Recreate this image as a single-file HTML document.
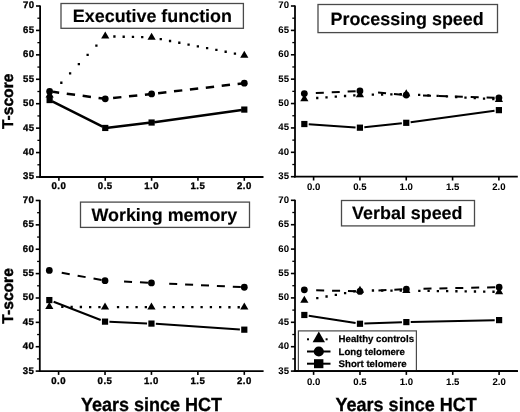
<!DOCTYPE html>
<html><head><meta charset="utf-8"><style>
html,body{margin:0;padding:0;background:#fff;width:520px;height:412px;overflow:hidden}
svg{display:block;will-change:transform}
text{font-family:"Liberation Sans",sans-serif;font-weight:bold;fill:#000;text-rendering:geometricPrecision}
.tk{font-size:9.6px;stroke:#000;stroke-width:0.35px;letter-spacing:0.5px}
.tkr{font-size:9.6px;stroke:#000;stroke-width:0.05px}
.tt{font-size:17.9px;stroke:#000;stroke-width:0.15px}
.at{font-size:18px;stroke:#000;stroke-width:0.3px}
.yt{font-size:15.6px;stroke:#000;stroke-width:0.45px}
.lg{font-size:9.65px;stroke:#000;stroke-width:0.25px}
</style></head><body>
<svg width="520" height="412" viewBox="0 0 520 412">
<rect width="520" height="412" fill="#fff"/>
<rect x="61.0" y="3.5" width="182.40" height="24.80" fill="#fff" stroke="#4a4a4a" stroke-width="1.3"/>
<text x="152.4" y="21.8" text-anchor="middle" class="tt">Executive function</text>
<line x1="40.1" y1="5.4" x2="40.1" y2="177.9" stroke="#000" stroke-width="1.8"/>
<line x1="39.2" y1="177.0" x2="263.5" y2="177.0" stroke="#000" stroke-width="1.8"/>
<line x1="36.0" y1="177.00" x2="40.1" y2="177.00" stroke="#000" stroke-width="1.6"/>
<text transform="translate(34.60,179.40) scale(1.0,1)" text-anchor="end" class="tk">35</text>
<line x1="36.0" y1="152.57" x2="40.1" y2="152.57" stroke="#000" stroke-width="1.6"/>
<text transform="translate(34.60,154.97) scale(1.0,1)" text-anchor="end" class="tk">40</text>
<line x1="36.0" y1="128.14" x2="40.1" y2="128.14" stroke="#000" stroke-width="1.6"/>
<text transform="translate(34.60,130.54) scale(1.0,1)" text-anchor="end" class="tk">45</text>
<line x1="36.0" y1="103.71" x2="40.1" y2="103.71" stroke="#000" stroke-width="1.6"/>
<text transform="translate(34.60,106.11) scale(1.0,1)" text-anchor="end" class="tk">50</text>
<line x1="36.0" y1="79.29" x2="40.1" y2="79.29" stroke="#000" stroke-width="1.6"/>
<text transform="translate(34.60,81.69) scale(1.0,1)" text-anchor="end" class="tk">55</text>
<line x1="36.0" y1="54.86" x2="40.1" y2="54.86" stroke="#000" stroke-width="1.6"/>
<text transform="translate(34.60,57.26) scale(1.0,1)" text-anchor="end" class="tk">60</text>
<line x1="36.0" y1="30.43" x2="40.1" y2="30.43" stroke="#000" stroke-width="1.6"/>
<text transform="translate(34.60,32.83) scale(1.0,1)" text-anchor="end" class="tk">65</text>
<line x1="36.0" y1="6.00" x2="40.1" y2="6.00" stroke="#000" stroke-width="1.6"/>
<text transform="translate(34.60,8.40) scale(1.0,1)" text-anchor="end" class="tk">70</text>
<line x1="37.4" y1="164.79" x2="40.1" y2="164.79" stroke="#000" stroke-width="1.3"/>
<line x1="37.4" y1="140.36" x2="40.1" y2="140.36" stroke="#000" stroke-width="1.3"/>
<line x1="37.4" y1="115.93" x2="40.1" y2="115.93" stroke="#000" stroke-width="1.3"/>
<line x1="37.4" y1="91.50" x2="40.1" y2="91.50" stroke="#000" stroke-width="1.3"/>
<line x1="37.4" y1="67.07" x2="40.1" y2="67.07" stroke="#000" stroke-width="1.3"/>
<line x1="37.4" y1="42.64" x2="40.1" y2="42.64" stroke="#000" stroke-width="1.3"/>
<line x1="37.4" y1="18.21" x2="40.1" y2="18.21" stroke="#000" stroke-width="1.3"/>
<line x1="58.90" y1="177.0" x2="58.90" y2="180.8" stroke="#000" stroke-width="1.6"/>
<text transform="translate(58.90,189.40) scale(1.0,1)" text-anchor="middle" class="tk">0.0</text>
<line x1="105.25" y1="177.0" x2="105.25" y2="180.8" stroke="#000" stroke-width="1.6"/>
<text transform="translate(105.25,189.40) scale(1.0,1)" text-anchor="middle" class="tk">0.5</text>
<line x1="151.60" y1="177.0" x2="151.60" y2="180.8" stroke="#000" stroke-width="1.6"/>
<text transform="translate(151.60,189.40) scale(1.0,1)" text-anchor="middle" class="tk">1.0</text>
<line x1="197.95" y1="177.0" x2="197.95" y2="180.8" stroke="#000" stroke-width="1.6"/>
<text transform="translate(197.95,189.40) scale(1.0,1)" text-anchor="middle" class="tk">1.5</text>
<line x1="244.30" y1="177.0" x2="244.30" y2="180.8" stroke="#000" stroke-width="1.6"/>
<text transform="translate(244.30,189.40) scale(1.0,1)" text-anchor="middle" class="tk">2.0</text>
<path d="M95.24,44.51h2.3v2.3h-2.3zM86.48,53.78h2.3v2.3h-2.3zM77.71,63.05h2.3v2.3h-2.3zM68.95,72.32h2.3v2.3h-2.3zM60.18,81.59h2.3v2.3h-2.3zM141.08,36.04h2.3v2.3h-2.3zM131.81,35.81h2.3v2.3h-2.3zM122.54,35.59h2.3v2.3h-2.3zM113.27,35.36h2.3v2.3h-2.3zM233.78,52.38h2.3v2.3h-2.3zM224.51,50.59h2.3v2.3h-2.3zM215.24,48.80h2.3v2.3h-2.3zM205.97,47.00h2.3v2.3h-2.3zM196.70,45.21h2.3v2.3h-2.3zM187.43,43.42h2.3v2.3h-2.3zM178.16,41.62h2.3v2.3h-2.3zM168.89,39.83h2.3v2.3h-2.3zM159.62,38.04h2.3v2.3h-2.3z" fill="#000"/>
<path d="M98.55,97.93L105.25,98.83M82.65,95.81L90.95,96.92M66.75,93.69L75.05,94.80M53.03,91.86L59.15,92.67M144.90,94.65L151.60,93.94M129.00,96.33L137.30,95.45M113.10,98.00L121.40,97.13M237.60,83.97L244.30,83.19M221.70,85.81L230.00,84.85M205.80,87.66L214.10,86.70M189.90,89.50L198.20,88.54M174.00,91.35L182.30,90.38M158.10,93.19L166.40,92.23" fill="none" stroke="#000" stroke-width="2.5"/>
<path d="M52.28,101.38L102.60,126.62M107.85,127.64L149.00,122.83M154.20,122.16L241.70,109.94" fill="none" stroke="#000" stroke-width="2.5"/>
<rect x="46.53" y="96.95" width="6.2" height="6.2" fill="#000"/>
<rect x="102.15" y="124.85" width="6.2" height="6.2" fill="#000"/>
<rect x="148.50" y="119.42" width="6.2" height="6.2" fill="#000"/>
<rect x="241.20" y="106.48" width="6.2" height="6.2" fill="#000"/>
<circle cx="49.63" cy="91.40" r="3.4" fill="#000"/>
<circle cx="105.25" cy="98.83" r="3.4" fill="#000"/>
<circle cx="151.60" cy="93.94" r="3.4" fill="#000"/>
<circle cx="244.30" cy="83.19" r="3.4" fill="#000"/>
<path d="M49.63,90.45L53.73,97.45L45.53,97.45Z" fill="#000"/>
<path d="M105.25,31.62L109.35,38.62L101.15,38.62Z" fill="#000"/>
<path d="M151.60,32.75L155.70,39.75L147.50,39.75Z" fill="#000"/>
<path d="M244.30,50.68L248.40,57.68L240.20,57.68Z" fill="#000"/>
<rect x="318.0" y="4.5" width="179.50" height="28.10" fill="#fff" stroke="#4a4a4a" stroke-width="1.3"/>
<text x="407.1" y="24.5" text-anchor="middle" class="tt">Processing speed</text>
<line x1="295.0" y1="5.4" x2="295.0" y2="177.6" stroke="#000" stroke-width="1.8"/>
<line x1="294.1" y1="176.7" x2="517.8" y2="176.7" stroke="#000" stroke-width="1.8"/>
<line x1="290.9" y1="176.70" x2="295.0" y2="176.70" stroke="#000" stroke-width="1.6"/>
<text transform="translate(289.00,179.10) scale(1.0,1)" text-anchor="end" class="tkr">35</text>
<line x1="290.9" y1="152.31" x2="295.0" y2="152.31" stroke="#000" stroke-width="1.6"/>
<text transform="translate(289.00,154.71) scale(1.0,1)" text-anchor="end" class="tkr">40</text>
<line x1="290.9" y1="127.93" x2="295.0" y2="127.93" stroke="#000" stroke-width="1.6"/>
<text transform="translate(289.00,130.33) scale(1.0,1)" text-anchor="end" class="tkr">45</text>
<line x1="290.9" y1="103.54" x2="295.0" y2="103.54" stroke="#000" stroke-width="1.6"/>
<text transform="translate(289.00,105.94) scale(1.0,1)" text-anchor="end" class="tkr">50</text>
<line x1="290.9" y1="79.16" x2="295.0" y2="79.16" stroke="#000" stroke-width="1.6"/>
<text transform="translate(289.00,81.56) scale(1.0,1)" text-anchor="end" class="tkr">55</text>
<line x1="290.9" y1="54.77" x2="295.0" y2="54.77" stroke="#000" stroke-width="1.6"/>
<text transform="translate(289.00,57.17) scale(1.0,1)" text-anchor="end" class="tkr">60</text>
<line x1="290.9" y1="30.39" x2="295.0" y2="30.39" stroke="#000" stroke-width="1.6"/>
<text transform="translate(289.00,32.79) scale(1.0,1)" text-anchor="end" class="tkr">65</text>
<line x1="290.9" y1="6.00" x2="295.0" y2="6.00" stroke="#000" stroke-width="1.6"/>
<text transform="translate(289.00,8.40) scale(1.0,1)" text-anchor="end" class="tkr">70</text>
<line x1="292.3" y1="164.51" x2="295.0" y2="164.51" stroke="#000" stroke-width="1.3"/>
<line x1="292.3" y1="140.12" x2="295.0" y2="140.12" stroke="#000" stroke-width="1.3"/>
<line x1="292.3" y1="115.74" x2="295.0" y2="115.74" stroke="#000" stroke-width="1.3"/>
<line x1="292.3" y1="91.35" x2="295.0" y2="91.35" stroke="#000" stroke-width="1.3"/>
<line x1="292.3" y1="66.96" x2="295.0" y2="66.96" stroke="#000" stroke-width="1.3"/>
<line x1="292.3" y1="42.58" x2="295.0" y2="42.58" stroke="#000" stroke-width="1.3"/>
<line x1="292.3" y1="18.19" x2="295.0" y2="18.19" stroke="#000" stroke-width="1.3"/>
<line x1="313.60" y1="176.7" x2="313.60" y2="180.5" stroke="#000" stroke-width="1.6"/>
<text transform="translate(313.60,189.50) scale(1.0,1)" text-anchor="middle" class="tkr">0.0</text>
<line x1="359.93" y1="176.7" x2="359.93" y2="180.5" stroke="#000" stroke-width="1.6"/>
<text transform="translate(359.93,189.50) scale(1.0,1)" text-anchor="middle" class="tkr">0.5</text>
<line x1="406.25" y1="176.7" x2="406.25" y2="180.5" stroke="#000" stroke-width="1.6"/>
<text transform="translate(406.25,189.50) scale(1.0,1)" text-anchor="middle" class="tkr">1.0</text>
<line x1="452.58" y1="176.7" x2="452.58" y2="180.5" stroke="#000" stroke-width="1.6"/>
<text transform="translate(452.58,189.50) scale(1.0,1)" text-anchor="middle" class="tkr">1.5</text>
<line x1="498.90" y1="176.7" x2="498.90" y2="180.5" stroke="#000" stroke-width="1.6"/>
<text transform="translate(498.90,189.50) scale(1.0,1)" text-anchor="middle" class="tkr">2.0</text>
<path d="M353.18,94.21h2.3v2.3h-2.3zM343.91,94.87h2.3v2.3h-2.3zM334.64,95.52h2.3v2.3h-2.3zM325.37,96.18h2.3v2.3h-2.3zM316.10,96.84h2.3v2.3h-2.3zM399.50,92.99h2.3v2.3h-2.3zM390.23,93.18h2.3v2.3h-2.3zM380.96,93.37h2.3v2.3h-2.3zM371.69,93.55h2.3v2.3h-2.3zM492.15,98.06h2.3v2.3h-2.3zM482.88,97.51h2.3v2.3h-2.3zM473.61,96.96h2.3v2.3h-2.3zM464.34,96.41h2.3v2.3h-2.3zM455.07,95.85h2.3v2.3h-2.3zM445.80,95.30h2.3v2.3h-2.3zM436.53,94.75h2.3v2.3h-2.3zM427.26,94.20h2.3v2.3h-2.3zM417.99,93.65h2.3v2.3h-2.3z" fill="#000"/>
<path d="M347.62,91.53L355.62,91.16M331.73,92.27L339.73,91.90M315.82,93.01L323.82,92.64M393.95,93.97L401.95,94.68M378.05,92.56L386.05,93.27M486.60,97.47L494.60,97.71M470.70,96.99L478.70,97.23M454.80,96.51L462.80,96.75M438.90,96.04L446.90,96.28M423.00,95.56L431.00,95.80" fill="none" stroke="#000" stroke-width="2.0"/>
<path d="M308.73,124.32L355.53,127.40M364.32,127.22L401.86,123.27M410.64,122.21L494.51,110.73" fill="none" stroke="#000" stroke-width="2.0"/>
<rect x="301.24" y="120.93" width="6.2" height="6.2" fill="#000"/>
<rect x="356.82" y="124.58" width="6.2" height="6.2" fill="#000"/>
<rect x="403.15" y="119.71" width="6.2" height="6.2" fill="#000"/>
<rect x="495.80" y="107.03" width="6.2" height="6.2" fill="#000"/>
<circle cx="304.34" cy="93.54" r="3.4" fill="#000"/>
<circle cx="359.93" cy="90.96" r="3.4" fill="#000"/>
<circle cx="406.25" cy="95.06" r="3.4" fill="#000"/>
<circle cx="498.90" cy="97.84" r="3.4" fill="#000"/>
<path d="M304.34,94.24L308.44,101.24L300.24,101.24Z" fill="#000"/>
<path d="M359.93,90.29L364.03,97.29L355.82,97.29Z" fill="#000"/>
<path d="M406.25,89.37L410.35,96.37L402.15,96.37Z" fill="#000"/>
<path d="M498.90,94.88L503.00,101.88L494.80,101.88Z" fill="#000"/>
<rect x="80.5" y="202.1" width="169.00" height="25.30" fill="#fff" stroke="#4a4a4a" stroke-width="1.3"/>
<text x="164.35" y="220.6" text-anchor="middle" class="tt">Working memory</text>
<line x1="39.8" y1="199.9" x2="39.8" y2="372.0" stroke="#000" stroke-width="1.8"/>
<line x1="38.9" y1="371.1" x2="263.6" y2="371.1" stroke="#000" stroke-width="1.8"/>
<line x1="35.699999999999996" y1="371.10" x2="39.8" y2="371.10" stroke="#000" stroke-width="1.6"/>
<text transform="translate(34.30,373.50) scale(1.0,1)" text-anchor="end" class="tk">35</text>
<line x1="35.699999999999996" y1="346.73" x2="39.8" y2="346.73" stroke="#000" stroke-width="1.6"/>
<text transform="translate(34.30,349.13) scale(1.0,1)" text-anchor="end" class="tk">40</text>
<line x1="35.699999999999996" y1="322.36" x2="39.8" y2="322.36" stroke="#000" stroke-width="1.6"/>
<text transform="translate(34.30,324.76) scale(1.0,1)" text-anchor="end" class="tk">45</text>
<line x1="35.699999999999996" y1="297.99" x2="39.8" y2="297.99" stroke="#000" stroke-width="1.6"/>
<text transform="translate(34.30,300.39) scale(1.0,1)" text-anchor="end" class="tk">50</text>
<line x1="35.699999999999996" y1="273.61" x2="39.8" y2="273.61" stroke="#000" stroke-width="1.6"/>
<text transform="translate(34.30,276.01) scale(1.0,1)" text-anchor="end" class="tk">55</text>
<line x1="35.699999999999996" y1="249.24" x2="39.8" y2="249.24" stroke="#000" stroke-width="1.6"/>
<text transform="translate(34.30,251.64) scale(1.0,1)" text-anchor="end" class="tk">60</text>
<line x1="35.699999999999996" y1="224.87" x2="39.8" y2="224.87" stroke="#000" stroke-width="1.6"/>
<text transform="translate(34.30,227.27) scale(1.0,1)" text-anchor="end" class="tk">65</text>
<line x1="35.699999999999996" y1="200.50" x2="39.8" y2="200.50" stroke="#000" stroke-width="1.6"/>
<text transform="translate(34.30,202.90) scale(1.0,1)" text-anchor="end" class="tk">70</text>
<line x1="37.099999999999994" y1="358.91" x2="39.8" y2="358.91" stroke="#000" stroke-width="1.3"/>
<line x1="37.099999999999994" y1="334.54" x2="39.8" y2="334.54" stroke="#000" stroke-width="1.3"/>
<line x1="37.099999999999994" y1="310.17" x2="39.8" y2="310.17" stroke="#000" stroke-width="1.3"/>
<line x1="37.099999999999994" y1="285.80" x2="39.8" y2="285.80" stroke="#000" stroke-width="1.3"/>
<line x1="37.099999999999994" y1="261.43" x2="39.8" y2="261.43" stroke="#000" stroke-width="1.3"/>
<line x1="37.099999999999994" y1="237.06" x2="39.8" y2="237.06" stroke="#000" stroke-width="1.3"/>
<line x1="37.099999999999994" y1="212.69" x2="39.8" y2="212.69" stroke="#000" stroke-width="1.3"/>
<line x1="58.60" y1="371.1" x2="58.60" y2="374.90000000000003" stroke="#000" stroke-width="1.6"/>
<text transform="translate(58.60,384.40) scale(1.0,1)" text-anchor="middle" class="tk">0.0</text>
<line x1="105.03" y1="371.1" x2="105.03" y2="374.90000000000003" stroke="#000" stroke-width="1.6"/>
<text transform="translate(105.03,384.40) scale(1.0,1)" text-anchor="middle" class="tk">0.5</text>
<line x1="151.45" y1="371.1" x2="151.45" y2="374.90000000000003" stroke="#000" stroke-width="1.6"/>
<text transform="translate(151.45,384.40) scale(1.0,1)" text-anchor="middle" class="tk">1.0</text>
<line x1="197.87" y1="371.1" x2="197.87" y2="374.90000000000003" stroke="#000" stroke-width="1.6"/>
<text transform="translate(197.87,384.40) scale(1.0,1)" text-anchor="middle" class="tk">1.5</text>
<line x1="244.30" y1="371.1" x2="244.30" y2="374.90000000000003" stroke="#000" stroke-width="1.6"/>
<text transform="translate(244.30,384.40) scale(1.0,1)" text-anchor="middle" class="tk">2.0</text>
<path d="M98.28,305.96h2.3v2.3h-2.3zM89.00,305.90h2.3v2.3h-2.3zM79.73,305.83h2.3v2.3h-2.3zM70.47,305.77h2.3v2.3h-2.3zM61.20,305.70h2.3v2.3h-2.3zM144.70,306.00h2.3v2.3h-2.3zM135.43,306.00h2.3v2.3h-2.3zM126.16,306.00h2.3v2.3h-2.3zM116.89,306.00h2.3v2.3h-2.3zM237.55,306.09h2.3v2.3h-2.3zM228.28,306.08h2.3v2.3h-2.3zM219.01,306.07h2.3v2.3h-2.3zM209.74,306.06h2.3v2.3h-2.3zM200.47,306.05h2.3v2.3h-2.3zM191.20,306.04h2.3v2.3h-2.3zM181.93,306.03h2.3v2.3h-2.3zM172.66,306.02h2.3v2.3h-2.3zM163.39,306.01h2.3v2.3h-2.3z" fill="#000"/>
<path d="M93.53,278.57L101.53,280.04M77.62,275.65L85.62,277.12M61.73,272.73L69.73,274.20M139.95,282.33L147.95,282.71M124.05,281.58L132.05,281.96M232.80,286.72L240.80,287.10M216.90,285.97L224.90,286.35M201.00,285.22L209.00,285.59M185.10,284.47L193.10,284.84M169.20,283.71L177.20,284.09" fill="none" stroke="#000" stroke-width="2.0"/>
<path d="M53.63,301.75L100.71,319.96M109.42,321.81L147.05,323.39M155.85,323.86L239.90,329.38" fill="none" stroke="#000" stroke-width="2.0"/>
<rect x="46.21" y="296.98" width="6.2" height="6.2" fill="#000"/>
<rect x="101.93" y="318.53" width="6.2" height="6.2" fill="#000"/>
<rect x="148.35" y="320.48" width="6.2" height="6.2" fill="#000"/>
<rect x="241.20" y="326.57" width="6.2" height="6.2" fill="#000"/>
<circle cx="49.31" cy="270.45" r="3.4" fill="#000"/>
<circle cx="105.03" cy="280.68" r="3.4" fill="#000"/>
<circle cx="151.45" cy="282.88" r="3.4" fill="#000"/>
<circle cx="244.30" cy="287.26" r="3.4" fill="#000"/>
<path d="M49.31,302.09L53.41,309.09L45.21,309.09Z" fill="#000"/>
<path d="M105.03,302.48L109.12,309.48L100.93,309.48Z" fill="#000"/>
<path d="M151.45,302.48L155.55,309.48L147.35,309.48Z" fill="#000"/>
<path d="M244.30,302.58L248.40,309.58L240.20,309.58Z" fill="#000"/>
<rect x="341.5" y="200.5" width="133.00" height="25.40" fill="#fff" stroke="#4a4a4a" stroke-width="1.3"/>
<text x="407.3" y="218.6" text-anchor="middle" class="tt">Verbal speed</text>
<line x1="295.0" y1="199.70000000000002" x2="295.0" y2="372.0" stroke="#000" stroke-width="1.8"/>
<line x1="294.1" y1="371.1" x2="518" y2="371.1" stroke="#000" stroke-width="1.8"/>
<line x1="290.9" y1="371.10" x2="295.0" y2="371.10" stroke="#000" stroke-width="1.6"/>
<text transform="translate(289.00,373.50) scale(1.0,1)" text-anchor="end" class="tkr">35</text>
<line x1="290.9" y1="346.70" x2="295.0" y2="346.70" stroke="#000" stroke-width="1.6"/>
<text transform="translate(289.00,349.10) scale(1.0,1)" text-anchor="end" class="tkr">40</text>
<line x1="290.9" y1="322.30" x2="295.0" y2="322.30" stroke="#000" stroke-width="1.6"/>
<text transform="translate(289.00,324.70) scale(1.0,1)" text-anchor="end" class="tkr">45</text>
<line x1="290.9" y1="297.90" x2="295.0" y2="297.90" stroke="#000" stroke-width="1.6"/>
<text transform="translate(289.00,300.30) scale(1.0,1)" text-anchor="end" class="tkr">50</text>
<line x1="290.9" y1="273.50" x2="295.0" y2="273.50" stroke="#000" stroke-width="1.6"/>
<text transform="translate(289.00,275.90) scale(1.0,1)" text-anchor="end" class="tkr">55</text>
<line x1="290.9" y1="249.10" x2="295.0" y2="249.10" stroke="#000" stroke-width="1.6"/>
<text transform="translate(289.00,251.50) scale(1.0,1)" text-anchor="end" class="tkr">60</text>
<line x1="290.9" y1="224.70" x2="295.0" y2="224.70" stroke="#000" stroke-width="1.6"/>
<text transform="translate(289.00,227.10) scale(1.0,1)" text-anchor="end" class="tkr">65</text>
<line x1="290.9" y1="200.30" x2="295.0" y2="200.30" stroke="#000" stroke-width="1.6"/>
<text transform="translate(289.00,202.70) scale(1.0,1)" text-anchor="end" class="tkr">70</text>
<line x1="292.3" y1="358.90" x2="295.0" y2="358.90" stroke="#000" stroke-width="1.3"/>
<line x1="292.3" y1="334.50" x2="295.0" y2="334.50" stroke="#000" stroke-width="1.3"/>
<line x1="292.3" y1="310.10" x2="295.0" y2="310.10" stroke="#000" stroke-width="1.3"/>
<line x1="292.3" y1="285.70" x2="295.0" y2="285.70" stroke="#000" stroke-width="1.3"/>
<line x1="292.3" y1="261.30" x2="295.0" y2="261.30" stroke="#000" stroke-width="1.3"/>
<line x1="292.3" y1="236.90" x2="295.0" y2="236.90" stroke="#000" stroke-width="1.3"/>
<line x1="292.3" y1="212.50" x2="295.0" y2="212.50" stroke="#000" stroke-width="1.3"/>
<line x1="313.60" y1="371.1" x2="313.60" y2="374.90000000000003" stroke="#000" stroke-width="1.6"/>
<text transform="translate(313.60,384.50) scale(1.0,1)" text-anchor="middle" class="tkr">0.0</text>
<line x1="359.98" y1="371.1" x2="359.98" y2="374.90000000000003" stroke="#000" stroke-width="1.6"/>
<text transform="translate(359.98,384.50) scale(1.0,1)" text-anchor="middle" class="tkr">0.5</text>
<line x1="406.35" y1="371.1" x2="406.35" y2="374.90000000000003" stroke="#000" stroke-width="1.6"/>
<text transform="translate(406.35,384.50) scale(1.0,1)" text-anchor="middle" class="tkr">1.0</text>
<line x1="452.73" y1="371.1" x2="452.73" y2="374.90000000000003" stroke="#000" stroke-width="1.6"/>
<text transform="translate(452.73,384.50) scale(1.0,1)" text-anchor="middle" class="tkr">1.5</text>
<line x1="499.10" y1="371.1" x2="499.10" y2="374.90000000000003" stroke="#000" stroke-width="1.6"/>
<text transform="translate(499.10,384.50) scale(1.0,1)" text-anchor="middle" class="tkr">2.0</text>
<path d="M353.23,290.30h2.3v2.3h-2.3zM343.96,291.98h2.3v2.3h-2.3zM334.69,293.67h2.3v2.3h-2.3zM325.42,295.35h2.3v2.3h-2.3zM316.15,297.03h2.3v2.3h-2.3zM399.60,289.46h2.3v2.3h-2.3zM390.33,289.42h2.3v2.3h-2.3zM381.06,289.38h2.3v2.3h-2.3zM371.79,289.34h2.3v2.3h-2.3zM492.35,290.58h2.3v2.3h-2.3zM483.08,290.46h2.3v2.3h-2.3zM473.81,290.35h2.3v2.3h-2.3zM464.54,290.23h2.3v2.3h-2.3zM455.27,290.11h2.3v2.3h-2.3zM446.00,289.99h2.3v2.3h-2.3zM436.73,289.88h2.3v2.3h-2.3zM427.46,289.76h2.3v2.3h-2.3zM418.19,289.64h2.3v2.3h-2.3z" fill="#000"/>
<path d="M347.98,291.07L355.98,291.30M332.08,290.63L340.08,290.85M316.18,290.18L324.18,290.41M394.35,289.71L402.35,289.31M378.45,290.50L386.45,290.10M487.10,287.42L495.10,287.25M471.20,287.75L479.20,287.58M455.30,288.09L463.30,287.92M439.40,288.42L447.40,288.25M423.50,288.76L431.50,288.59" fill="none" stroke="#000" stroke-width="2.0"/>
<path d="M308.71,315.67L355.59,323.07M364.37,323.61L401.95,322.26M410.75,322.01L494.70,320.20" fill="none" stroke="#000" stroke-width="2.0"/>
<rect x="301.23" y="311.88" width="6.2" height="6.2" fill="#000"/>
<rect x="356.88" y="320.66" width="6.2" height="6.2" fill="#000"/>
<rect x="403.25" y="319.00" width="6.2" height="6.2" fill="#000"/>
<rect x="496.00" y="317.00" width="6.2" height="6.2" fill="#000"/>
<circle cx="304.33" cy="289.85" r="3.4" fill="#000"/>
<circle cx="359.98" cy="291.41" r="3.4" fill="#000"/>
<circle cx="406.35" cy="289.12" r="3.4" fill="#000"/>
<circle cx="499.10" cy="287.16" r="3.4" fill="#000"/>
<path d="M304.33,295.87L308.43,302.87L300.23,302.87Z" fill="#000"/>
<path d="M359.98,285.77L364.08,292.77L355.88,292.77Z" fill="#000"/>
<path d="M406.35,285.96L410.45,292.96L402.25,292.96Z" fill="#000"/>
<path d="M499.10,287.13L503.20,294.13L495.00,294.13Z" fill="#000"/>
<text transform="translate(151.55,410.6) scale(1,1.06)" text-anchor="middle" class="at">Years since HCT</text>
<text transform="translate(406.1,410.5) scale(1,1.06)" text-anchor="middle" class="at">Years since HCT</text>
<text transform="translate(13.1,101.35) rotate(-90)" text-anchor="middle" class="yt">T-score</text>
<text transform="translate(13.1,295.9) rotate(-90)" text-anchor="middle" class="yt">T-score</text>
<rect x="298.4" y="330.9" width="118" height="40" fill="#fff" stroke="#4a4a4a" stroke-width="1.2"/>
<rect x="293.7" y="370.1" width="224" height="1.8" fill="#000"/>
<rect x="307" y="338.3" width="2" height="2" fill="#000"/><rect x="325.6" y="338.3" width="2" height="2" fill="#000"/>
<path d="M318.8,331.4L325,342.3L312.6,342.3Z" fill="#000"/>
<line x1="307" y1="351.5" x2="330.5" y2="351.5" stroke="#000" stroke-width="2"/>
<circle cx="318.8" cy="351.5" r="5.1" fill="#000"/>
<line x1="307" y1="363.7" x2="330.5" y2="363.7" stroke="#000" stroke-width="2"/>
<rect x="314" y="359.2" width="9.4" height="9" fill="#000"/>
<text x="338.6" y="342.3" class="lg">Healthy controls</text>
<text x="338.6" y="354.7" class="lg">Long telomere</text>
<text x="338.6" y="366.8" class="lg">Short telomere</text>
</svg>
</body></html>
